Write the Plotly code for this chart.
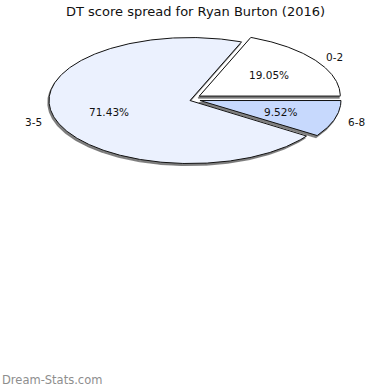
import numpy as np
import plotly.graph_objects as go

# Data
labels = ["0-2", "3-5", "6-8"]
values = [4, 15, 2]
colors = ["#ffffff", "#ebf1fe", "#c7d9fd"]
title = "DT score spread for Ryan Burton (2016)"
watermark = "Dream-Stats.com"

# Geometry (pixel space of the 390x390 figure)
W = H = 390
cx, cy = 195.0, 99.0
rx, ry = 141.0, 63.0
explode = 5.2
shadow_dx, shadow_dy = -1.2, 2.0

total = float(sum(values))
fig = go.Figure()

slices = []
start = 0.0
for lab, v, col in zip(labels, values, colors):
    sweep = 360.0 * v / total
    end = start + sweep
    mid = np.radians((start + end) / 2)
    ox = cx + explode * np.cos(mid)
    oy = cy - explode * np.sin(mid)
    th = np.radians(np.linspace(start, end, max(int(sweep * 2), 8)))
    xs = np.concatenate([[ox], ox + rx * np.cos(th), [ox]])
    ys = np.concatenate([[oy], oy - ry * np.sin(th), [oy]])
    slices.append((lab, v, col, xs, ys, mid, ox, oy))
    start = end

# shadows
for lab, v, col, xs, ys, mid, ox, oy in slices:
    fig.add_trace(go.Scatter(x=xs + shadow_dx, y=ys + shadow_dy, mode="lines",
                             fill="toself", fillcolor="rgba(90,90,90,0.75)",
                             line=dict(color="rgba(110,110,110,0.8)", width=1.2),
                             hoverinfo="skip", showlegend=False))
# slices
for lab, v, col, xs, ys, mid, ox, oy in slices:
    fig.add_trace(go.Scatter(x=xs, y=ys, mode="lines", fill="toself",
                             fillcolor=col, line=dict(color="#111111", width=1),
                             hoverinfo="skip", showlegend=False))

annotations = []
for lab, v, col, xs, ys, mid, ox, oy in slices:
    pct = "%.2f%%" % (100.0 * v / total)
    annotations.append(dict(x=ox + 0.6 * rx * np.cos(mid), y=oy - 0.6 * ry * np.sin(mid),
                            text=pct, showarrow=False, xref="x", yref="y",
                            font=dict(size=10.5, color="#111111", family="DejaVu Sans")))
    annotations.append(dict(x=cx + 1.2 * rx * np.cos(mid), y=cy - 1.2 * ry * np.sin(mid) + 1,
                            text=lab, showarrow=False, xref="x", yref="y",
                            font=dict(size=10.5, color="#111111", family="DejaVu Sans")))

annotations.append(dict(x=195, y=11, text=title, showarrow=False, xref="x", yref="y",
                        font=dict(size=13, color="#111111", family="DejaVu Sans")))
annotations.append(dict(x=0, y=380, text=watermark, showarrow=False, xref="x", yref="y",
                        xanchor="left",
                        font=dict(size=11.5, color="#8e8e8e", family="DejaVu Sans")))

fig.update_layout(
    width=W, height=H, margin=dict(l=0, r=0, t=0, b=0),
    paper_bgcolor="white", plot_bgcolor="white",
    xaxis=dict(range=[0, W], visible=False, fixedrange=True),
    yaxis=dict(range=[H, 0], visible=False, fixedrange=True),
    annotations=annotations,
)

fig.write_html("out.html", config={"displayModeBar": False},
               post_script="document.body.style.margin='0';document.body.style.overflow='hidden';")
